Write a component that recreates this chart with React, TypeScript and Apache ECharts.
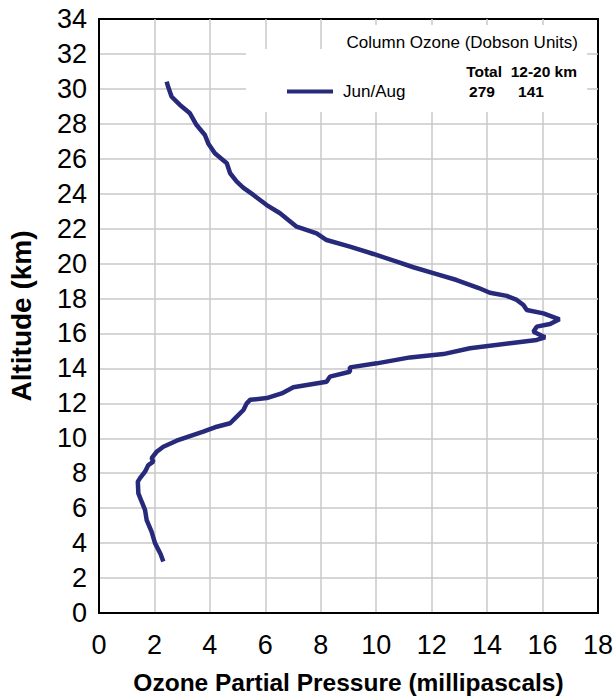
import React, { useEffect, useRef } from "react";
import * as echarts from "echarts";

// Ozone profile (Jun/Aug): partial pressure (mPa) vs altitude (km)
const pressure = [
  2.32, 2.22, 2.02, 1.9, 1.72, 1.66, 1.54, 1.42, 1.4, 1.48, 1.66, 1.78, 1.96, 1.9, 2.08,
  2.32, 2.8, 3.28, 3.76, 4.18, 4.73, 4.97, 5.21, 5.33, 5.45, 6.05, 6.59, 7.01, 8.21, 8.33,
  9.05, 9.05, 10.02, 11.22, 12.42, 13.38, 14.83, 15.79, 16.09, 15.67, 15.79, 16.27, 16.61,
  16.03, 15.43, 15.31, 15.07, 14.71, 14.1, 13.7, 12.9, 12.18, 11.34, 10.74, 9.9, 9.05,
  8.21, 7.85, 7.13, 6.53, 6.05, 5.57, 5.2, 4.97, 4.73, 4.61, 4.18, 3.94, 3.82, 3.52, 3.28,
  2.92, 2.62, 2.5, 2.44,
];
const altitude = [
  2.95, 3.38, 4.0, 4.65, 5.32, 5.9, 6.37, 6.85, 7.52, 7.72, 8.09, 8.47, 8.66, 8.87, 9.23,
  9.52, 9.86, 10.13, 10.38, 10.63, 10.86, 11.24, 11.62, 12.0, 12.2, 12.3, 12.57, 12.92,
  13.24, 13.53, 13.81, 14.06, 14.29, 14.63, 14.82, 15.15, 15.44, 15.63, 15.78, 16.1, 16.39,
  16.54, 16.81, 17.15, 17.34, 17.63, 17.92, 18.15, 18.33, 18.6, 19.06, 19.4, 19.79, 20.11,
  20.55, 20.97, 21.35, 21.73, 22.11, 22.88, 23.35, 23.93, 24.35, 24.69, 25.17, 25.74, 26.31,
  26.88, 27.36, 27.93, 28.6, 29.08, 29.55, 30.09, 30.41,
];
const seriesName = "Jun/Aug";
const legendTitle = "Column Ozone (Dobson Units)";
const columnHeader = "Total  12-20 km";
const totalDU = "279";
const layerDU = "141";

const FONT = "'Liberation Sans', Arial, Helvetica, sans-serif";
const LINE_COLOR = "#272a7b";

export default function App() {
  const ref = useRef<HTMLDivElement>(null);
  useEffect(() => {
    if (!ref.current) return;
    const chart = echarts.init(ref.current, undefined, { renderer: "svg" });
    const data = pressure.map((p, i) => [p, altitude[i]]);
    chart.setOption({
      animation: false,
      backgroundColor: "#fff",
      textStyle: { fontFamily: FONT },
      grid: {
        left: 99,
        top: 19,
        width: 499,
        height: 594,
        show: true,
        borderColor: "#000",
        borderWidth: 2,
        backgroundColor: "transparent",
        containLabel: false,
        outerBoundsMode: "none",
      },
      xAxis: {
        type: "value",
        min: 0,
        max: 18,
        interval: 2,
        name: "Ozone Partial Pressure (millipascals)",
        nameLocation: "middle",
        nameGap: 57,
        nameTextStyle: { fontFamily: FONT, fontSize: 24.5, fontWeight: "bold", color: "#000" },
        axisLine: { show: true, lineStyle: { color: "#000", width: 2 } },
        axisTick: { show: false },
        axisLabel: { fontFamily: FONT, fontSize: 27, color: "#000", margin: 18 },
        splitLine: {
          show: true,
          showMinLine: false,
          showMaxLine: false,
          lineStyle: { color: "#c8c8c8", width: 1.5 },
        },
      },
      yAxis: {
        type: "value",
        min: 0,
        max: 34,
        interval: 2,
        name: "Altitude (km)",
        nameLocation: "middle",
        nameRotate: 90,
        nameGap: 64,
        nameTextStyle: { fontFamily: FONT, fontSize: 28, fontWeight: "bold", color: "#000" },
        axisLine: { show: true, lineStyle: { color: "#000", width: 2 } },
        axisTick: { show: false },
        axisLabel: { fontFamily: FONT, fontSize: 27, color: "#000", margin: 12 },
        splitLine: {
          show: true,
          showMinLine: false,
          showMaxLine: false,
          lineStyle: { color: "#c8c8c8", width: 1.5 },
        },
      },
      legend: {
        data: [seriesName],
        left: 287,
        top: 83,
        padding: 0,
        itemWidth: 46,
        itemHeight: 4,
        icon: "rect",
        itemStyle: { color: LINE_COLOR },
        textStyle: {
          fontFamily: FONT,
          fontSize: 17,
          color: "#000",
          lineHeight: 17,
          padding: [0, 0, 0, 5],
        },
      },
      graphic: [
        {
          type: "rect",
          z: 1,
          shape: { x: 246, y: 49, width: 341, height: 63 },
          style: { fill: "#fff" },
        },
        {
          type: "rect",
          z: 1,
          shape: { x: 334, y: 25, width: 253, height: 25 },
          style: { fill: "#fff" },
        },
        {
          type: "text",
          z: 5,
          x: 578,
          y: 42,
          style: {
            text: legendTitle,
            fontFamily: FONT,
            fontSize: 17,
            fill: "#000",
            align: "right",
            verticalAlign: "middle",
          },
        },
        {
          type: "text",
          z: 5,
          x: 577,
          y: 71,
          style: {
            text: columnHeader,
            fontFamily: FONT,
            fontSize: 15.5,
            fontWeight: "bold",
            fill: "#000",
            align: "right",
            verticalAlign: "middle",
          },
        },
        {
          type: "text",
          z: 5,
          x: 482,
          y: 91,
          style: {
            text: totalDU,
            fontFamily: FONT,
            fontSize: 15.5,
            fontWeight: "bold",
            fill: "#000",
            align: "center",
            verticalAlign: "middle",
          },
        },
        {
          type: "text",
          z: 5,
          x: 531,
          y: 91,
          style: {
            text: layerDU,
            fontFamily: FONT,
            fontSize: 15.5,
            fontWeight: "bold",
            fill: "#000",
            align: "center",
            verticalAlign: "middle",
          },
        },
      ],
      series: [
        {
          name: seriesName,
          type: "line",
          data,
          showSymbol: false,
          symbol: "none",
          z: 3,
          lineStyle: { color: LINE_COLOR, width: 4.5 },
          itemStyle: { color: LINE_COLOR },
        },
      ],
    });
    return () => chart.dispose();
  }, []);
  return (
    <div
      ref={ref}
      style={{ position: "absolute", left: 0, top: 0, width: 613, height: 696 }}
    />
  );
}
